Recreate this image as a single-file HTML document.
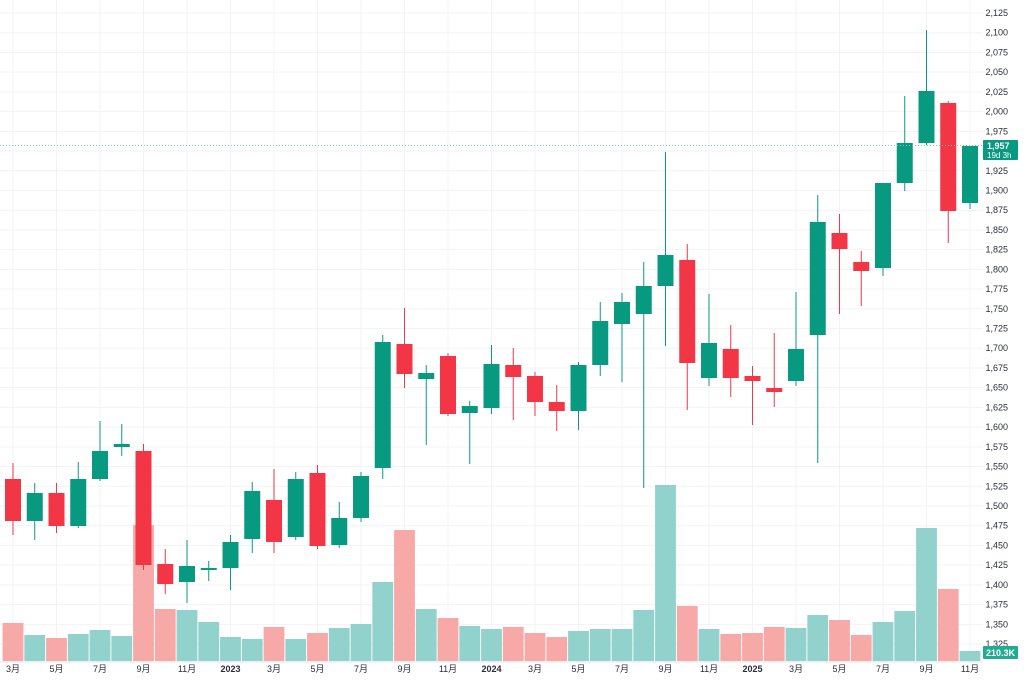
<!DOCTYPE html>
<html><head><meta charset="utf-8"><style>
body{margin:0;background:#fff;width:1024px;height:682px;overflow:hidden}
svg text{font-family:"Liberation Sans","Noto Sans CJK SC",sans-serif;font-size:9px;fill:#2a2e39}
</style></head><body>
<svg id="s" width="1024" height="682" xmlns="http://www.w3.org/2000/svg"></svg>
<script>
const c=[
[1,463,535,479,521],[0,483,540,493,521],[1,483,533,493,526],[0,462,528,479,526],[0,421,481,451,479],[0,424,456,444,447],[1,444,570,451,565],[1,549,594,564,584],[0,540,603,566,582],[0,561,581,568,570],
[0,535,590,542,568],[0,482,553,491,539],[1,469,553,500,542],[0,472,540,479,537],[1,465,549,473,546],[0,502,548,518,545],[0,472,522,476,518],[0,335,479,342,468],[1,308,388,344,374],[0,365,445,373,379],
[1,353,416,356,414],[0,401,464,406,413],[0,345,414,364,408],[1,348,420,365,377],[1,372,416,376,402],[1,385,431,402,411],[0,362,430,365,411],[0,302,376,321,365],[0,293,382,302,324],[0,262,488,286,314],
[0,152,346,255,286],[1,244,410,260,363],[0,294,386,343,378],[1,325,397,349,378],[1,366,425,376,381],[1,333,407,388,392],[0,292,386,349,381],[0,195,463,222,335],[1,214,314,233,249],[1,251,306,262,271],
[0,183,276,183,268],[0,96,191,143,183],[0,30,145,91,143],[1,101,243,103,211],[0,146,209,146,203]];
const v=[623,635,638,634,630,636,525,609,610,622,637,639,627,639,633,628,624,582,530,609,618,626,629,627,633,637,631,629,629,610,485,606,629,634,633,627,628,615,620,635,622,611,528,589,651];
let h='';
for(let i=0;i<=32;i++){const y=13+i*19.72;h+=`<line x1="0" x2="983" y1="${y}" y2="${y}" stroke="#f2f3f5"/>`;
 const p=2125-25*i; h+=`<text x="1008" y="${y+3}" text-anchor="end">${p.toLocaleString('en-US')}</text>`;}
const X=i=>13+i*21.75;
const labels=['3月','5月','7月','9月','11月','2023','3月','5月','7月','9月','11月','2024','3月','5月','7月','9月','11月','2025','3月','5月','7月','9月','11月'];
labels.forEach((l,k)=>{const x=X(k*2);h+=`<line x1="${x}" x2="${x}" y1="0" y2="662" stroke="#f2f3f5"/>`;
 h+=`<text x="${x}" y="672" text-anchor="middle" ${/^\d{4}$/.test(l)?'font-weight="bold"':''}>${l}</text>`;});
h+=`<line x1="0" x2="983" y1="662" y2="662" stroke="#e0e3eb"/>`;
v.forEach((t,i)=>{const col=c[i][0]?'#f7a9a7':'#92d2cc';h+=`<rect x="${X(i)-10.4}" y="${t}" width="20.8" height="${661-t}" fill="${col}"/>`;});
c.forEach((d,i)=>{const col=d[0]?'#f23645':'#089981';const x=X(i);
 h+=`<line x1="${x}" x2="${x}" y1="${d[1]}" y2="${d[2]}" stroke="${col}" stroke-width="1"/>`;
 h+=`<rect x="${x-8}" y="${d[3]}" width="16" height="${Math.max(1,d[4]-d[3])}" fill="${col}"/>`;});
h+=`<line x1="0" x2="983" y1="145.5" y2="145.5" stroke="#7fc8bb" stroke-dasharray="1 2"/>`;
h+=`<rect x="983" y="140" width="35" height="20" rx="1" fill="#089981"/><text x="987" y="149" style="fill:#fff;font-weight:bold">1,957</text><text x="987" y="158" style="fill:#fff;font-size:8px">19d 3h</text>`;
h+=`<rect x="983" y="646" width="35" height="13" rx="1" fill="#22ab94"/><text x="986" y="656" style="fill:#fff;font-weight:bold">210.3K</text>`;
document.getElementById('s').innerHTML=h;
</script>
</body></html>
